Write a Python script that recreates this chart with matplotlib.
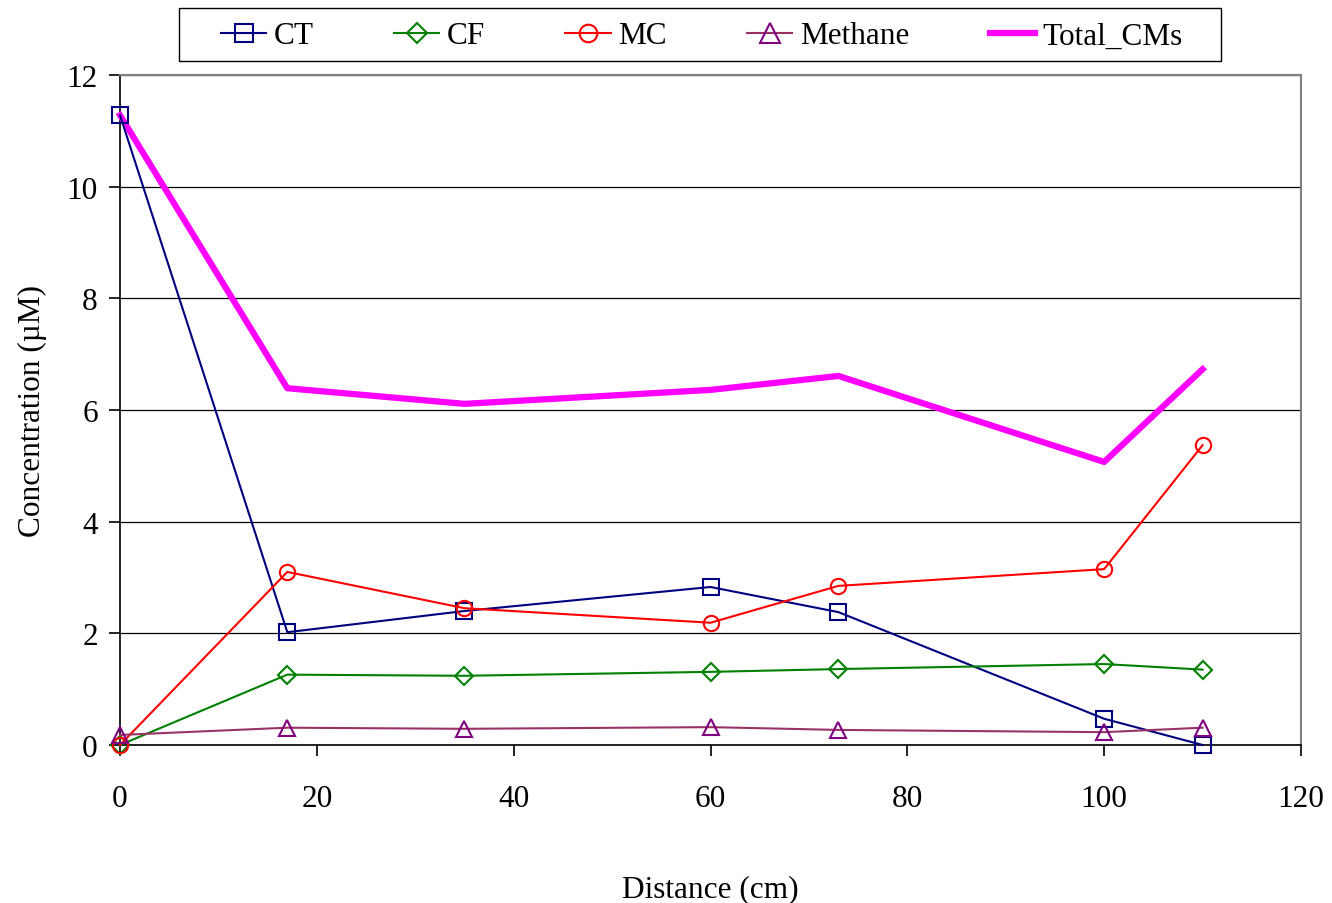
import matplotlib
matplotlib.use("Agg")
import matplotlib.pyplot as plt
from matplotlib.patches import Rectangle

plt.rcParams['font.family'] = ['Liberation Serif', 'DejaVu Serif']

distance = [0, 17, 35, 60, 73, 100, 110]
ct = [11.28, 2.02, 2.40, 2.83, 2.38, 0.47, 0.0]
cf = [0.0, 1.26, 1.24, 1.31, 1.36, 1.45, 1.35]
mc = [0.0, 3.10, 2.45, 2.19, 2.85, 3.15, 5.37]
methane = [0.18, 0.31, 0.29, 0.32, 0.27, 0.23, 0.31]
total_cms = [11.28, 6.39, 6.11, 6.36, 6.61, 5.07, 6.73]

FS = 22.5
W, H = 1332, 904

fig = plt.figure(figsize=(13.32, 9.04), dpi=100)
ax = fig.add_axes([120/W, 1-746/H, (1301-120)/W, (746-76)/H])

ms = 11
ax.plot(distance, ct, color='#000080', lw=1.5, marker='s', ms=ms, mfc='none', mec='#000080', mew=1.5, label='CT', zorder=4, clip_on=False)
ax.plot(distance, cf, color='#008000', lw=1.5, marker='D', ms=ms*0.8, mfc='none', mec='#008000', mew=1.5, label='CF', zorder=4, clip_on=False)
ax.plot(distance, mc, color='#FF0000', lw=1.5, marker='o', ms=ms, mfc='none', mec='#FF0000', mew=1.5, label='MC', zorder=4, clip_on=False)
ax.plot(distance, methane, color='#993366', lw=1.5, marker='^', ms=ms+1, mfc='none', mec='#800080', mew=1.5, label='Methane', zorder=4, clip_on=False)
ax.plot(distance, total_cms, color='#FF00FF', lw=4.5, label='Total_CMs', zorder=3, clip_on=False)

ax.set_xlim(0, 120)
ax.set_ylim(0, 12)
ax.set_xticks(range(0, 121, 20))
ax.set_yticks(range(0, 13, 2))
ax.yaxis.grid(True, color='#000000', lw=0.9)
ax.set_axisbelow(True)

for s in ['left', 'bottom']:
    ax.spines[s].set_color('#000000')
    ax.spines[s].set_linewidth(1.2)
for s in ['top', 'right']:
    ax.spines[s].set_color('#808080')
    ax.spines[s].set_linewidth(1.5)

ax.tick_params(axis='both', direction='out', length=8, width=1.2, labelsize=FS, colors='#000000')
ax.tick_params(axis='x', pad=20)
ax.tick_params(axis='y', pad=8)

ax.set_xlabel('Distance (cm)', fontsize=FS, labelpad=44)
ax.set_ylabel('Concentration (\u00b5M)', fontsize=FS, labelpad=14)

# legend frame
fig.patches.append(Rectangle((179/W, 1-62/H), (1221-179)/W, 53/H, transform=fig.transFigure,
                             fill=False, edgecolor='#000000', lw=1.0, figure=fig))
leg = fig.legend(loc='center', bbox_to_anchor=(702/W, 1-37/H), ncol=5,
                 fontsize=FS, frameon=False,
                 handlelength=1.45, handletextpad=0.25, columnspacing=2.56,
                 borderpad=0.0, borderaxespad=0, markerscale=1.15)

fig.savefig('out.png', dpi=100)
